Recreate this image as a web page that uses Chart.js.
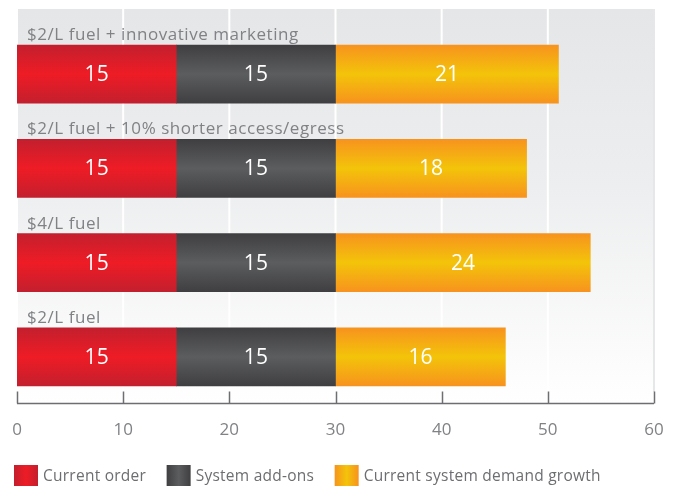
<!DOCTYPE html>
<html>
<head>
<meta charset="utf-8">
<title>Fuel price scenarios</title>
<script src="https://cdn.jsdelivr.net/npm/chart.js@4/dist/chart.umd.min.js"></script>
<style>
  html, body { margin: 0; padding: 0; background: #fff; }
  #wrap { width: 679px; height: 486px; }
</style>
</head>
<body>
<div id="wrap"><canvas id="fuelChart" width="679" height="486"></canvas></div>
<script>
const categories = [
    '$2/L fuel + innovative marketing',
    '$2/L fuel + 10% shorter access/egress',
    '$4/L fuel',
    '$2/L fuel'
];
const seriesNames = ['Current order', 'System add-ons', 'Current system demand growth'];
const currentOrder = [15, 15, 15, 15];
const systemAddOns = [15, 15, 15, 15];
const demandGrowth = [21, 18, 24, 16];
const xTicks = [0, 10, 20, 30, 40, 50, 60];

const FONT = '"Open Sans", "Liberation Sans", sans-serif';
const BAR_H = 58;

// edge / middle colour pairs for the shaded bars
const shades = [
    ['#c31f2e', '#ee1c25'],
    ['#3f3f41', '#5c5d5f'],
    ['#f7931e', '#f3c409']
];

function barGradient(idx) {
    return function(ctx) {
        const chart = ctx.chart;
        const s = shades[idx];
        if (ctx.type !== 'data' || !chart.scales.y) return s[1];
        const yc = chart.scales.y.getPixelForValue(ctx.dataIndex);
        if (!isFinite(yc)) return s[1];
        const g = chart.ctx.createLinearGradient(0, yc - BAR_H / 2, 0, yc + BAR_H / 2);
        g.addColorStop(0, s[0]);
        g.addColorStop(0.5, s[1]);
        g.addColorStop(1, s[0]);
        return g;
    };
}

// grey panel with white vertical grid lines
const panel = {
    id: 'panel',
    beforeDatasetsDraw(chart) {
        const { ctx, chartArea, scales } = chart;
        const top = chartArea.top - 18;
        const bottom = chartArea.bottom;
        const left = scales.x.getPixelForValue(0);
        const right = scales.x.getPixelForValue(60);
        const g = ctx.createLinearGradient(0, top, 0, bottom);
        g.addColorStop(0, '#e5e6e7');
        g.addColorStop(0.45, '#edeeef');
        g.addColorStop(1, '#ffffff');
        ctx.save();
        ctx.fillStyle = g;
        ctx.fillRect(left, top, right - left, bottom - top);
        ctx.lineWidth = 2;
        xTicks.forEach(v => {
            const x = scales.x.getPixelForValue(v);
            ctx.strokeStyle = v === 60 ? '#e6e7e8' : '#ffffff';
            ctx.beginPath();
            ctx.moveTo(x, top);
            ctx.lineTo(x, bottom - 12);
            ctx.stroke();
        });
        ctx.restore();
    }
};

// category names above bars, values inside segments, axis line, legend
const annotate = {
    id: 'annotate',
    afterDatasetsDraw(chart) {
        const { ctx, scales } = chart;
        ctx.save();
        ctx.font = '17px ' + FONT;
        ctx.letterSpacing = '0.55px';
        ctx.fillStyle = '#808285';
        ctx.textAlign = 'left';
        ctx.textBaseline = 'alphabetic';
        categories.forEach((c, i) => {
            const yc = scales.y.getPixelForValue(i);
            ctx.fillText(c, 27, yc - BAR_H / 2 - 5);
        });
        ctx.letterSpacing = '0px';

        ctx.font = '21px ' + FONT;
        ctx.fillStyle = '#ffffff';
        ctx.textAlign = 'center';
        ctx.textBaseline = 'middle';
        chart.data.datasets.forEach((ds, di) => {
            const meta = chart.getDatasetMeta(di);
            meta.data.forEach((bar, i) => {
                const p = bar.getProps(['x', 'y', 'base'], true);
                ctx.fillText(String(ds.data[i]), (p.x + p.base) / 2, p.y + 1);
            });
        });
        ctx.restore();
    },
    afterDraw(chart) {
        const { ctx, chartArea, scales } = chart;
        const yAxis = chartArea.bottom - 0.5;
        ctx.save();
        ctx.strokeStyle = '#6d6e71';
        ctx.lineWidth = 1.5;
        ctx.beginPath();
        ctx.moveTo(scales.x.getPixelForValue(0), yAxis);
        ctx.lineTo(scales.x.getPixelForValue(60), yAxis);
        ctx.stroke();
        xTicks.forEach(v => {
            const x = Math.round(scales.x.getPixelForValue(v)) + 0.5;
            ctx.beginPath();
            ctx.moveTo(x, yAxis);
            ctx.lineTo(x, yAxis - 12);
            ctx.stroke();
        });

        // legend
        ctx.font = '15.5px ' + FONT;
        ctx.letterSpacing = '0.25px';
        ctx.textAlign = 'left';
        ctx.textBaseline = 'middle';
        let x = 14;
        const yMid = 476;
        seriesNames.forEach((name, i) => {
            const s = shades[i];
            const g = ctx.createLinearGradient(x, 0, x + 24, 0);
            g.addColorStop(0, s[0]);
            g.addColorStop(0.5, s[1]);
            g.addColorStop(1, s[0]);
            ctx.fillStyle = g;
            ctx.fillRect(x, yMid - 11, 24, 22);
            ctx.fillStyle = '#6d6e71';
            ctx.fillText(name, x + 29, yMid + 1);
            x += 29 + ctx.measureText(name).width + 20.5;
        });
        ctx.restore();
    }
};

const chart = new Chart(document.getElementById('fuelChart'), {
    type: 'bar',
    data: {
        labels: categories,
        datasets: [
            { label: seriesNames[0], data: currentOrder, backgroundColor: barGradient(0) },
            { label: seriesNames[1], data: systemAddOns, backgroundColor: barGradient(1) },
            { label: seriesNames[2], data: demandGrowth, backgroundColor: barGradient(2) }
        ]
    },
    options: {
        indexAxis: 'y',
        responsive: false,
        animation: false,
        barThickness: BAR_H,
        borderWidth: 0,
        layout: { padding: { left: 17, right: 25, top: 27, bottom: 40 } },
        plugins: {
            legend: { display: false },
            tooltip: { enabled: false }
        },
        scales: {
            x: {
                stacked: true,
                min: 0,
                max: 60,
                grid: { display: false, drawTicks: false },
                border: { display: false },
                ticks: {
                    stepSize: 10,
                    padding: 16,
                    color: '#808285',
                    font: { family: FONT, size: 17 }
                },
                afterFit(scale) {
                    scale.height = 42;
                    scale.paddingLeft = 0;
                    scale.paddingRight = 0;
                }
            },
            y: {
                stacked: true,
                display: false
            }
        }
    },
    plugins: [panel, annotate]
});
</script>
</body>
</html>
